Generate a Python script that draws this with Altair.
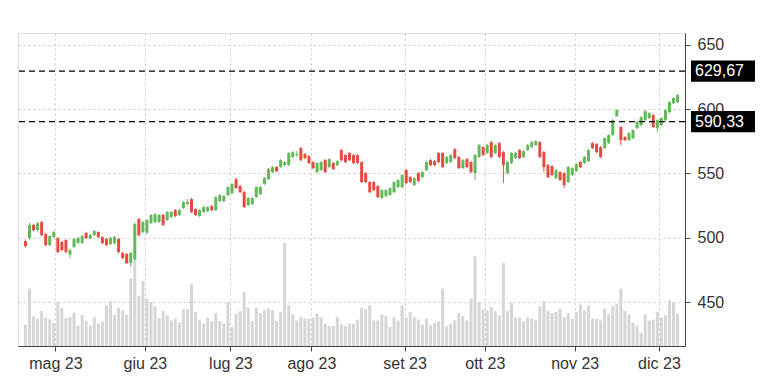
import altair as alt
import pandas as pd

opens = [497.4, 499.8, 509.9, 506.0, 512.2, 502.9, 494.3, 500.5, 499.8, 496.7,
         498.2, 487.0, 492.8, 496.0, 496.0, 503.7, 499.5, 502.1, 504.4, 500.5,
         499.0, 495.1, 495.9, 499.0, 488.1, 487.3, 480.3, 483.4, 514.5, 504.4,
         504.0, 511.4, 512.2, 512.2, 517.7, 513.8, 516.1, 521.5, 517.7, 523.1,
         526.2, 530.1, 522.3, 516.9, 520.0, 520.8, 524.6, 521.5, 528.5, 528.5,
         533.2, 534.8, 545.6, 540.2, 535.5, 525.4, 526.2, 531.6, 534.0, 541.8,
         545.6, 551.1, 555.0, 555.0, 556.5, 556.5, 562.8, 564.3, 569.7, 565.1,
         563.5, 558.9, 551.1, 552.6, 560.4, 555.0, 558.1, 556.5, 568.2, 564.3,
         565.9, 564.3, 564.3, 558.9, 550.3, 543.3, 543.3, 540.2, 530.9, 532.4,
         533.2, 535.5, 539.4, 539.4, 552.6, 547.2, 541.0, 550.3, 547.2, 552.6,
         560.4, 559.6, 565.9, 565.9, 558.1, 558.9, 569.0, 562.8, 554.2, 561.2,
         558.9, 550.3, 562.8, 570.5, 565.9, 574.4, 565.9, 573.6, 566.6, 550.3,
         558.1, 562.0, 568.2, 562.8, 568.2, 570.5, 572.1, 574.4, 566.6, 556.5,
         555.7, 546.4, 551.1, 550.3, 543.3, 548.8, 551.8, 558.9, 558.1, 559.6,
         573.6, 572.9, 570.5, 569.7, 573.6, 579.9, 594.6, 586.1, 578.3, 576.0,
         577.5, 585.3, 587.6, 591.5, 593.1, 595.4, 585.3, 587.6, 591.5, 597.7,
         604.7, 605.5]

highs = [498.5, 511.5, 511.0, 512.2, 513.0, 503.5, 502.0, 505.5, 500.5, 497.5,
         499.0, 491.5, 500.0, 500.8, 502.0, 504.5, 503.0, 506.0, 505.0, 501.2,
         499.8, 500.5, 501.3, 499.8, 489.0, 488.0, 489.0, 512.0, 515.5, 513.0,
         514.5, 518.5, 519.0, 518.5, 518.5, 520.8, 520.8, 522.3, 522.5, 528.5,
         530.1, 530.9, 523.0, 522.3, 524.6, 524.6, 525.4, 532.4, 534.0, 533.2,
         540.2, 542.5, 546.4, 541.0, 536.3, 531.6, 531.6, 540.2, 540.2, 547.2,
         554.2, 555.7, 555.7, 561.2, 559.6, 566.6, 567.4, 567.4, 570.5, 565.9,
         564.3, 559.6, 558.9, 559.6, 561.2, 562.0, 558.9, 560.4, 569.0, 565.1,
         566.6, 565.1, 565.1, 559.6, 551.1, 544.1, 544.1, 541.0, 537.9, 537.9,
         539.4, 544.1, 545.6, 549.5, 553.4, 548.0, 547.2, 551.1, 551.8, 559.6,
         561.2, 560.4, 566.6, 566.6, 563.5, 565.1, 569.7, 563.5, 561.2, 562.0,
         559.6, 565.1, 572.9, 571.3, 572.9, 575.2, 572.9, 574.4, 567.4, 559.6,
         566.6, 566.6, 569.0, 568.2, 572.9, 575.2, 576.0, 575.2, 567.4, 557.3,
         556.5, 553.4, 551.8, 551.1, 555.7, 555.0, 558.1, 559.6, 563.5, 569.0,
         574.4, 573.6, 571.3, 578.3, 580.6, 592.3, 600.0, 586.9, 579.1, 582.2,
         584.5, 590.8, 594.6, 599.3, 597.7, 596.2, 592.3, 593.9, 600.0, 606.3,
         609.4, 612.0]

lows = [492.5, 498.5, 505.0, 505.0, 501.0, 493.5, 493.5, 499.8, 488.0, 489.5,
        488.0, 484.2, 492.0, 495.0, 495.2, 499.0, 498.8, 501.5, 499.8, 495.0,
        493.5, 494.5, 495.0, 488.0, 483.5, 479.5, 477.2, 482.5, 501.0, 503.5,
        503.0, 510.5, 511.5, 511.5, 509.0, 513.0, 515.5, 516.0, 517.0, 522.3,
        525.4, 519.2, 516.9, 516.1, 519.2, 520.0, 520.8, 520.8, 527.8, 527.8,
        532.4, 534.0, 537.9, 534.8, 523.1, 524.6, 525.4, 530.9, 533.2, 541.0,
        544.9, 550.3, 551.1, 554.2, 555.7, 555.7, 562.0, 562.8, 559.6, 561.2,
        557.3, 553.4, 550.3, 551.8, 550.3, 554.2, 552.6, 555.7, 559.6, 558.1,
        559.6, 557.3, 557.3, 542.5, 542.5, 534.8, 536.3, 530.9, 530.1, 531.6,
        532.4, 534.8, 538.6, 538.6, 541.8, 542.5, 540.2, 543.3, 546.4, 551.8,
        555.7, 555.7, 558.1, 554.2, 557.3, 558.1, 561.2, 553.4, 553.4, 554.2,
        550.3, 544.9, 562.0, 563.5, 565.1, 562.0, 565.1, 562.0, 542.5, 549.5,
        557.3, 561.2, 561.2, 562.0, 567.4, 569.7, 571.3, 562.0, 551.1, 546.4,
        548.0, 545.6, 544.1, 538.6, 542.5, 548.0, 551.1, 554.2, 557.3, 558.9,
        569.0, 565.9, 562.0, 569.0, 572.9, 579.1, 594.0, 572.1, 575.2, 575.2,
        576.8, 584.5, 586.9, 590.8, 592.3, 585.3, 582.2, 586.9, 590.8, 596.9,
        603.9, 604.7]

closes = [493.5, 509.9, 506.0, 511.4, 502.1, 494.3, 501.3, 504.4, 488.9, 490.4,
          488.9, 490.4, 499.0, 499.8, 501.3, 499.8, 502.1, 505.2, 500.5, 495.9,
          494.3, 499.8, 500.5, 488.9, 484.2, 480.3, 488.1, 510.7, 502.1, 512.2,
          513.8, 517.7, 518.4, 517.7, 509.9, 520.0, 520.0, 516.9, 521.5, 527.8,
          527.8, 520.0, 517.7, 521.5, 523.9, 523.9, 521.5, 531.6, 533.2, 532.4,
          539.4, 541.8, 538.6, 535.5, 523.9, 530.9, 530.9, 539.4, 539.4, 546.4,
          553.4, 555.0, 551.8, 560.4, 558.9, 565.9, 566.6, 565.1, 560.4, 562.0,
          558.1, 554.2, 558.1, 558.9, 551.1, 561.2, 553.4, 559.6, 560.4, 558.9,
          560.4, 558.1, 558.1, 543.3, 543.3, 535.5, 537.1, 531.6, 537.1, 537.1,
          538.6, 543.3, 544.9, 548.8, 542.5, 543.3, 546.4, 544.1, 551.1, 558.9,
          556.5, 556.5, 558.9, 555.0, 562.8, 564.3, 562.0, 554.2, 560.4, 555.0,
          551.1, 564.3, 572.1, 564.3, 572.1, 562.8, 572.1, 562.8, 556.5, 558.9,
          565.9, 565.9, 562.0, 567.4, 572.1, 574.4, 575.2, 562.8, 555.0, 547.2,
          548.8, 552.6, 544.9, 541.0, 555.0, 554.2, 557.3, 555.0, 562.8, 568.2,
          569.7, 566.6, 562.8, 577.5, 579.9, 591.5, 599.3, 576.0, 576.0, 581.4,
          583.7, 590.0, 593.9, 598.5, 596.9, 586.1, 591.5, 593.1, 599.3, 605.5,
          608.6, 611.0]

volumes = [2.14, 5.74, 2.97, 2.74, 3.50, 2.84, 2.67, 2.34, 4.40, 3.80,
           2.80, 2.90, 3.34, 2.00, 3.07, 2.50, 2.07, 2.90, 2.24, 2.44,
           4.07, 4.50, 3.14, 3.84, 3.57, 3.14, 6.74, 8.74, 5.00, 6.50,
           4.74, 4.40, 3.97, 2.80, 3.50, 3.07, 2.57, 2.74, 2.37, 3.64,
           3.67, 6.17, 3.40, 2.64, 2.24, 2.84, 2.47, 3.30, 2.50, 2.24,
           4.40, 1.90, 3.24, 3.47, 5.40, 3.84, 2.50, 3.84, 3.30, 3.57,
           3.74, 3.57, 2.50, 3.40, 10.30, 4.07, 3.17, 2.57, 2.90, 2.74,
           2.74, 2.84, 3.24, 2.84, 2.24, 2.00, 2.00, 2.90, 2.17, 2.00,
           2.24, 2.24, 2.64, 3.84, 3.67, 4.07, 2.57, 2.57, 3.14, 3.00,
           1.90, 2.90, 2.57, 4.07, 2.84, 3.40, 2.90, 2.64, 2.14, 2.74,
           2.07, 2.30, 2.47, 5.74, 1.97, 2.24, 2.57, 3.30, 3.00, 2.57,
           4.74, 8.97, 4.30, 3.67, 3.57, 3.90, 3.50, 3.07, 8.30, 3.50,
           4.30, 2.84, 2.84, 2.47, 2.84, 2.74, 2.57, 3.97, 4.50, 3.50,
           3.30, 3.40, 3.74, 2.90, 3.30, 2.74, 3.40, 4.17, 3.57, 4.07,
           2.74, 2.74, 2.57, 3.74, 3.24, 3.97, 4.24, 5.74, 3.50, 3.17,
           2.34, 2.07, 1.30, 3.17, 2.57, 2.64, 3.44, 2.84, 3.07, 4.57,
           4.40, 3.24]

month_ticks = [7.4, 29.5, 50.6, 70.6, 93.6, 113.4, 135.6, 156.4]
month_labels = ["mag 23", "giu 23", "lug 23", "ago 23", "set 23", "ott 23", "nov 23", "dic 23"]
price_ticks = [450, 500, 550, 600, 650]
level_values = [629.67, 590.33]
level_labels = ["629,67", "590,33"]

GREEN = "#62b95a"
RED = "#e64a40"
VOL = "#d6d6d6"
FONT = "Liberation Sans"

df = pd.DataFrame({
    "i": list(range(len(opens))),
    "open": opens, "high": highs, "low": lows, "close": closes,
    "volume": volumes,
})
df["dir"] = ["up" if c >= o else "down" for o, c in zip(opens, closes)]
levels = pd.DataFrame({"v": level_values, "lab": level_labels})

W, H = 667, 313
xscale = alt.Scale(domain=[-0.6, 161.6], nice=False, zero=False)
yscale = alt.Scale(domain=[415.8, 659.3], nice=False, zero=False)

label_expr = "[" + ",".join("'%s'" % s for s in month_labels) + "][indexof([" + \
    ",".join(str(t) for t in month_ticks) + "], datum.value)]"

xaxis = alt.Axis(values=month_ticks, labelExpr=label_expr, title=None,
                 grid=True, gridDash=[2, 3], gridColor="#c8c8c8",
                 domainColor="#444", tickColor="#444", tickSize=5,
                 labelFontSize=16, labelColor="#333", labelFont=FONT,
                 labelPadding=4, labelFlush=False)
yaxis = alt.Axis(orient="right", values=price_ticks, title=None,
                 grid=True, gridDash=[2, 3], gridColor="#c8c8c8",
                 domainColor="#444", tickColor="#444", tickSize=5,
                 labelFontSize=16, labelColor="#333", labelFont=FONT,
                 labelPadding=7)

X = alt.X("i:Q", scale=xscale, axis=xaxis)
color = alt.Color("dir:N", scale=alt.Scale(domain=["up", "down"], range=[GREEN, RED]), legend=None)

vol = alt.Chart(df).mark_bar(size=3, color=VOL).encode(
    x=X,
    y=alt.Y("volume:Q", scale=alt.Scale(domain=[0, 31.3], nice=False, zero=True), axis=None),
)

wick = alt.Chart(df).mark_rule(strokeWidth=1).encode(
    x=X, y=alt.Y("low:Q", scale=yscale, axis=yaxis), y2="high:Q", color=color)
body = alt.Chart(df).mark_bar(size=3).encode(
    x=X, y=alt.Y("open:Q", scale=yscale), y2="close:Q", color=color)

lvl = alt.Chart(levels).mark_rule(strokeDash=[6, 4], strokeWidth=1.3, color="#000").encode(
    y=alt.Y("v:Q", scale=yscale))
box = alt.Chart(levels).transform_calculate(
    top="datum.v + 8.2", bot="datum.v - 8.2"
).mark_rect(color="#000").encode(
    x=alt.value(W + 6), x2=alt.value(W + 70),
    y=alt.Y("top:Q", scale=yscale), y2="bot:Q")
txt = alt.Chart(levels).mark_text(align="left", baseline="middle", color="#fff",
                                   fontSize=16, font=FONT).encode(
    x=alt.value(W + 10), y=alt.Y("v:Q", scale=yscale), text="lab:N")

price = alt.layer(wick, body, lvl, box, txt)
chart = alt.layer(vol, price).resolve_scale(y="independent").properties(
    width=W, height=H,
    padding={"left": 9, "top": 25, "right": 5, "bottom": 5},
).configure_view(stroke=None).configure(background="white")

chart.save("out.html", embed_options={"renderer": "svg", "actions": False})
